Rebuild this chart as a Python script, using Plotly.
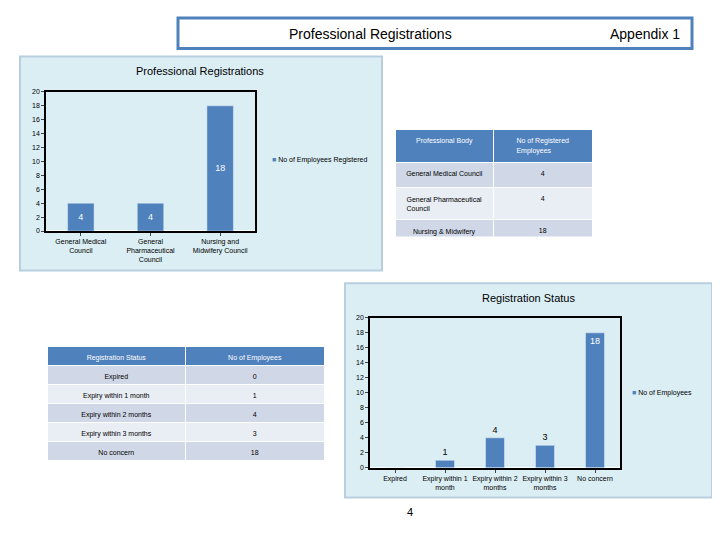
import plotly.graph_objects as go

bodies = ["General Medical<br>Council", "General<br>Pharmaceutical<br>Council", "Nursing and<br>Midwifery Council"]
body_rows = ["General Medical Council", "General Pharmaceutical<br>Council", "Nursing & Midwifery<br>Council"]
registered = [4, 4, 18]

statuses = ["Expired", "Expiry within 1<br>month", "Expiry within 2<br>months", "Expiry within 3<br>months", "No concern"]
status_rows = ["Expired", "Expiry within 1 month", "Expiry within 2 months", "Expiry within 3 months", "No concern"]
employees = [0, 1, 4, 3, 18]

BLUE = "#4f81bd"
PANEL = "#dbeef4"
FONT = "Liberation Sans"

# the page puts the figure 8px in from the top-left corner
W, H, OFF = 704, 524, 8


def px(x):
    return (x - OFF) / W


def py(y):
    return 1 - (y - OFF) / H


fig = go.Figure()

# chart 1
fig.add_trace(go.Bar(x=bodies, y=registered, marker_color=BLUE, width=0.38,
                     text=[str(v) for v in registered], textposition="inside",
                     insidetextanchor="middle", textfont=dict(color="white", size=9),
                     xaxis="x", yaxis="y", showlegend=False))
# chart 2
fig.add_trace(go.Bar(x=statuses, y=employees, marker_color=BLUE, width=0.38,
                     text=["", "1", "4", "3", "18"],
                     textposition=["outside"] * 4 + ["inside"], insidetextanchor="end",
                     textfont=dict(size=9), outsidetextfont=dict(color="black", size=9),
                     insidetextfont=dict(color="white", size=9),
                     cliponaxis=False, xaxis="x2", yaxis="y2", showlegend=False))

hdr = dict(fill_color=BLUE, font=dict(color="white", size=7, family=FONT),
           line_color="white", height=25, align="center")
fig.add_trace(go.Table(
    domain=dict(x=[px(395), px(592)], y=[py(236), py(127)]),
    header=dict(values=["Professional Body", "No of Registered<br>Employees"], **hdr),
    cells=dict(values=[body_rows, [str(v) for v in registered]],
               fill_color=[["#d0d8e8", "#e9edf4", "#d0d8e8"]] * 2,
               line_color="white", height=25, align="center",
               font=dict(size=7, family=FONT, color="black"))))
fig.add_trace(go.Table(
    domain=dict(x=[px(47), px(324)], y=[py(466), py(347)]),
    header=dict(values=["Registration Status", "No of Employees"], **{**hdr, "height": 19}),
    cells=dict(values=[status_rows, [str(v) for v in employees]],
               fill_color=[["#d0d8e8", "#e9edf4"] * 2 + ["#d0d8e8"]] * 2,
               line_color="white", height=19, align="center",
               font=dict(size=7, family=FONT, color="black"))))

ax = dict(showgrid=False, linecolor="black", linewidth=1.5, mirror=True,
          ticks="outside", ticklen=3, tickfont=dict(size=7, color="black"))


def note(text, x, y, size, anchor="center"):
    return dict(text=text, x=px(x), y=py(y), xref="paper", yref="paper",
                xanchor=anchor, yanchor="middle", showarrow=False, font=dict(size=size))


fig.update_layout(
    width=W, height=H, margin=dict(l=0, r=0, t=0, b=0),
    paper_bgcolor="white", plot_bgcolor="#d9d9d9",
    font=dict(family=FONT, size=8, color="black"),
    xaxis=dict(domain=[px(46), px(255)], anchor="y", **ax),
    yaxis=dict(domain=[py(230), py(89)], anchor="x", range=[0, 20], dtick=2, **ax),
    xaxis2=dict(domain=[px(370), px(620)], anchor="y2", **ax),
    yaxis2=dict(domain=[py(470), py(318)], anchor="x2", range=[0, 20], dtick=2, **ax),
    shapes=[
        dict(type="rect", xref="paper", yref="paper", x0=px(20), x1=px(382),
             y0=py(270), y1=py(53), fillcolor=PANEL, line=dict(color="#b8cfdf", width=2), layer="below"),
        dict(type="rect", xref="paper", yref="paper", x0=px(345), x1=px(712),
             y0=py(500), y1=py(283), fillcolor=PANEL, line=dict(color="#b8cfdf", width=2), layer="below"),
        dict(type="rect", xref="paper", yref="paper", x0=px(178), x1=px(692),
             y0=py(45), y1=py(14), fillcolor="white", line=dict(color=BLUE, width=3), layer="below"),
    ],
    annotations=[
        note("Professional Registrations", 370, 30, 14),
        note("Appendix 1", 645, 30, 14),
        note("Professional Registrations", 200, 68, 11),
        note("Registration Status", 528, 298, 11),
        note(f"<span style='color:{BLUE}'>■</span> No of Employees Registered", 270, 158, 7, "left"),
        note(f"<span style='color:{BLUE}'>■</span> No of Employees", 630, 394, 7, "left"),
        note("4", 410, 515, 11),
    ],
)

fig.write_html("out.html")
